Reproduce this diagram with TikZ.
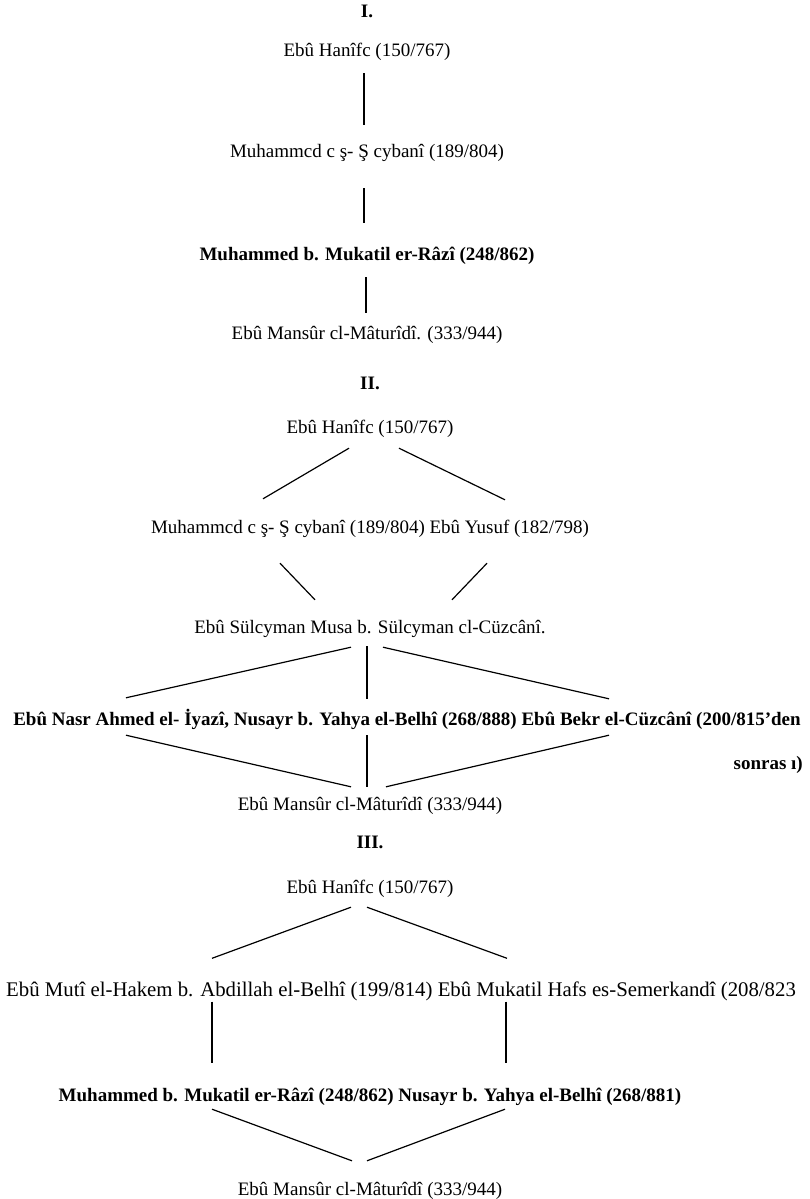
\documentclass[tikz,border=0pt]{standalone}
\usepackage{fontspec}
\setmainfont{Liberation Serif}
\tikzset{every node/.style={inner sep=0pt, font=\fontsize{19}{22}\selectfont, text height=14pt, text depth=5pt}}
\tikzset{heavy/.style={font=\fontsize{19}{22}\selectfont\bfseries}}
\tikzset{large/.style={font=\fontsize{20.8}{25}\selectfont, text height=15.5pt, text depth=5.5pt}}
\tikzset{link/.style={draw=black, line width=1.2pt}}

\begin{document}
\begin{tikzpicture}[x=1pt, y=1pt]
  \useasboundingbox (0,0) rectangle (809,-1199);

  % I.
  \node (secI) [heavy] at (367,-13) {I.};
  \node (hanife1) [node distance = 39pt, below of = secI] {Ebû Hanîfc (150/767)};
  \node (seybani1) [node distance = 101pt, below of = hanife1] {Muhammcd c ş- Ş cybanî (189/804)};
  \node (razi1) [heavy, node distance = 103pt, below of = seybani1] {Muhammed b. Mukatil er-Râzî (248/862)};
  \node (maturidi1) [node distance = 79pt, below of = razi1] {Ebû Mansûr cl-Mâturîdî. (333/944)};

  \path[link] ([xshift=-3pt, yshift=-11.5pt]hanife1.south) edge ([xshift=-3pt, yshift=18.5pt]seybani1.north);
  \path[link] ([xshift=-3pt, yshift=-25.5pt]seybani1.south) edge ([xshift=-3pt, yshift=23.5pt]razi1.north);
  \path[link] ([xshift=-1pt, yshift=-11.5pt]razi1.south) edge ([xshift=-1pt, yshift=12.5pt]maturidi1.north);

  % II.
  \node (secII) [heavy] at (370,-385) {II.};
  \node (hanife2) [node distance = 44pt, below of = secII] {Ebû Hanîfc (150/767)};
  \node (seybani2) [node distance = 100pt, below of = hanife2] {Muhammcd c ş- Ş cybanî (189/804) Ebû Yusuf (182/798)};
  \node (cuzcani2) [node distance = 100pt, below of = seybani2] {Ebû Sülcyman Musa b. Sülcyman cl-Cüzcânî.};
  \node (iyazi2) [heavy] at (407,-721) {Ebû Nasr Ahmed el- İyazî, Nusayr b. Yahya el-Belhî (268/888) Ebû Bekr el-Cüzcânî (200/815’den};
  \node (sonrasi2) [heavy, anchor=east] at (803,-765) {sonras ı)};
  \node (maturidi2) [node distance = 177pt, below of = cuzcani2] {Ebû Mansûr cl-Mâturîdî (333/944)};

  \path[link] ([xshift=-21pt, yshift=-9.5pt]hanife2.south) edge ([xshift=-107pt, yshift=20.5pt]seybani2.north);
  \path[link] ([xshift=29pt, yshift=-9.5pt]hanife2.south) edge ([xshift=135pt, yshift=19.5pt]seybani2.north);
  \path[link] ([xshift=-90pt, yshift=-24.5pt]seybani2.south) edge ([xshift=-55pt, yshift=19.5pt]cuzcani2.north);
  \path[link] ([xshift=117pt, yshift=-24.5pt]seybani2.south) edge ([xshift=82pt, yshift=19.5pt]cuzcani2.north);

  \path[link] ([xshift=-19pt, yshift=-8.5pt]cuzcani2.south) edge ([xshift=-281pt, yshift=13.5pt]iyazi2.north);
  \path[link] ([xshift=-3pt, yshift=-7.5pt]cuzcani2.south) edge ([xshift=-40pt, yshift=12.5pt]iyazi2.north);
  \path[link] ([xshift=13pt, yshift=-8.5pt]cuzcani2.south) edge ([xshift=202pt, yshift=12.5pt]iyazi2.north);

  \path[link] ([xshift=-281pt, yshift=-4.5pt]iyazi2.south) edge ([xshift=-19pt, yshift=9.5pt]maturidi2.north);
  \path[link] ([xshift=-40pt, yshift=-4.5pt]iyazi2.south) edge ([xshift=-3pt, yshift=9.5pt]maturidi2.north);
  \path[link] ([xshift=202pt, yshift=-4.5pt]iyazi2.south) edge ([xshift=16pt, yshift=9.5pt]maturidi2.north);

  % III.
  \node (secIII) [heavy] at (370,-844) {III.};
  \node (hanife3) [node distance = 45pt, below of = secIII] {Ebû Hanîfc (150/767)};
  \node (hakem3) [large, anchor=west] at (6,-991) {Ebû Mutî el-Hakem b. Abdillah el-Belhî (199/814) Ebû Mukatil Hafs es-Semerkandî (208/823};
  \node (razi3) [heavy, node distance = 208pt, below of = hanife3] {Muhammed b. Mukatil er-Râzî (248/862) Nusayr b. Yahya el-Belhî (268/881)};
  \node (maturidi3) [node distance = 94pt, below of = razi3] {Ebû Mansûr cl-Mâturîdî (333/944)};

  \path[link] ([xshift=-19pt, yshift=-8.5pt]hanife3.south) edge ([xshift=206pt, yshift=22pt]hakem3.north west);
  \path[link] ([xshift=-3pt, yshift=-8.5pt]hanife3.south) edge ([xshift=501pt, yshift=22pt]hakem3.north west);

  \path[link] ([xshift=206pt, yshift=0pt]hakem3.south west) edge ([xshift=-158pt, yshift=24.5pt]razi3.north);
  \path[link] ([xshift=500pt, yshift=0pt]hakem3.south west) edge ([xshift=136pt, yshift=24.5pt]razi3.north);

  \path[link] ([xshift=-158pt, yshift=-2.5pt]razi3.south) edge ([xshift=-18pt, yshift=20.5pt]maturidi3.north);
  \path[link] ([xshift=135pt, yshift=-2.5pt]razi3.south) edge ([xshift=-3pt, yshift=20.5pt]maturidi3.north);
\end{tikzpicture}
\end{document}
